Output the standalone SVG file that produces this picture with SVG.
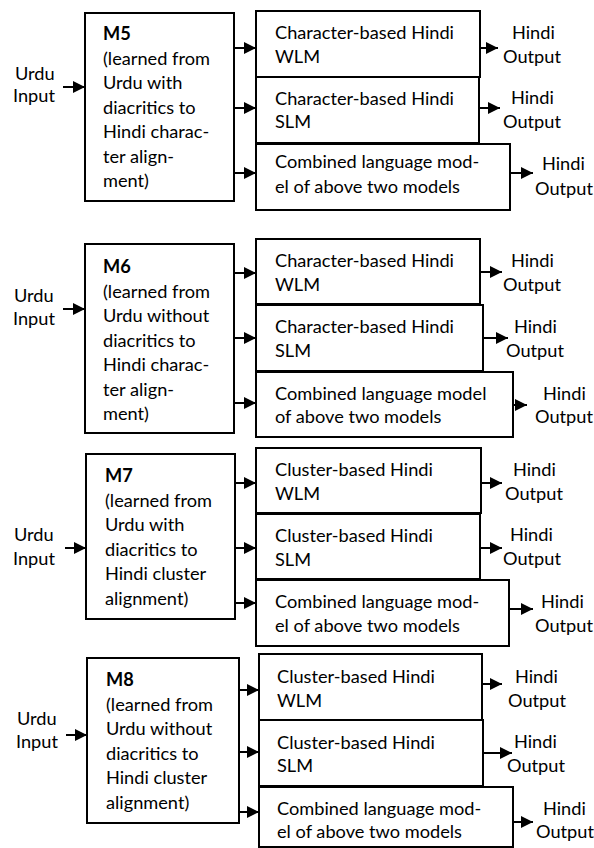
<svg xmlns="http://www.w3.org/2000/svg" width="594" height="848" viewBox="0 0 594 848">
<defs>
<style>
text{font-family:Lato,"Open Sans","Liberation Sans",sans-serif;font-size:18.2px;fill:#000}
.b{font-weight:bold}
rect{fill:#fff;stroke:#000;stroke-width:2}
.c line{stroke:#000;stroke-width:2}
</style>
<marker id="ah" markerUnits="userSpaceOnUse" markerWidth="13" markerHeight="13" refX="12" refY="6" orient="auto"><path d="M0,0 L12,6 L0,12 z" fill="#000"/></marker>
</defs>
<rect x="0" y="0" width="594" height="848" style="stroke:none;fill:#fff"/>

<!-- Section 1 -->
<g id="in1"><text x="15" y="80">Urdu</text><text x="13" y="102">Input</text></g>
<g id="m5"><rect x="85" y="13" width="149" height="188"/>
<text x="103" y="40" class="b">M5</text><text x="103" y="64.5">(learned from</text><text x="103" y="89">Urdu with</text><text x="103" y="113.5">diacritics to</text><text x="103" y="138">Hindi charac-</text><text x="103" y="162.5">ter align-</text><text x="103" y="187">ment)</text></g>
<g id="m5wlm"><rect x="256" y="11" width="224" height="66"/><text x="275" y="39">Character-based Hindi</text><text x="275" y="63">WLM</text></g>
<g id="m5slm"><rect x="256" y="77" width="223" height="66"/><text x="275" y="105">Character-based Hindi</text><text x="275" y="128">SLM</text></g>
<g id="m5comb"><rect x="256" y="144" width="254" height="66"/><text x="275" y="168">Combined language mod-</text><text x="275" y="193">el of above two models</text></g>
<g id="o1a"><text x="512" y="39">Hindi</text><text x="503" y="63">Output</text></g>
<g id="o1b"><text x="511" y="104">Hindi</text><text x="503" y="128">Output</text></g>
<g id="o1c"><text x="542" y="170">Hindi</text><text x="535" y="195">Output</text></g>

<!-- Section 2 -->
<g id="in2"><text x="14" y="302">Urdu</text><text x="13" y="325">Input</text></g>
<g id="m6"><rect x="85" y="244" width="149" height="189"/>
<text x="103" y="273" class="b">M6</text><text x="103" y="297.5">(learned from</text><text x="103" y="322">Urdu without</text><text x="103" y="346.5">diacritics to</text><text x="103" y="371">Hindi charac-</text><text x="103" y="395.5">ter align-</text><text x="103" y="420">ment)</text></g>
<g id="m6wlm"><rect x="256" y="239" width="224" height="65"/><text x="275" y="267">Character-based Hindi</text><text x="275" y="291">WLM</text></g>
<g id="m6slm"><rect x="256" y="305" width="227" height="66"/><text x="275" y="333">Character-based Hindi</text><text x="275" y="357">SLM</text></g>
<g id="m6comb"><rect x="256" y="372" width="257" height="65"/><text x="275" y="400">Combined language model</text><text x="275" y="423">of above two models</text></g>
<g id="o2a"><text x="511" y="267">Hindi</text><text x="503" y="291">Output</text></g>
<g id="o2b"><text x="514" y="333">Hindi</text><text x="506" y="357">Output</text></g>
<g id="o2c"><text x="543" y="400">Hindi</text><text x="535" y="423">Output</text></g>

<!-- Section 3 -->
<g id="in3"><text x="14" y="541">Urdu</text><text x="13" y="565">Input</text></g>
<g id="m7"><rect x="86" y="454" width="149" height="165"/>
<text x="105" y="482" class="b">M7</text><text x="105" y="506.5">(learned from</text><text x="105" y="531">Urdu with</text><text x="105" y="555.5">diacritics to</text><text x="105" y="580">Hindi cluster</text><text x="105" y="604.5">alignment)</text></g>
<g id="m7wlm"><rect x="256" y="448" width="225" height="65"/><text x="275" y="476">Cluster-based Hindi</text><text x="275" y="500">WLM</text></g>
<g id="m7slm"><rect x="256" y="514" width="224" height="65"/><text x="275" y="542">Cluster-based Hindi</text><text x="275" y="566">SLM</text></g>
<g id="m7comb"><rect x="256" y="580" width="253" height="66"/><text x="275" y="608">Combined language mod-</text><text x="275" y="632">el of above two models</text></g>
<g id="o3a"><text x="513" y="476">Hindi</text><text x="505" y="500">Output</text></g>
<g id="o3b"><text x="510" y="541">Hindi</text><text x="503" y="565">Output</text></g>
<g id="o3c"><text x="541" y="608">Hindi</text><text x="535" y="632">Output</text></g>

<!-- Section 4 -->
<g id="in4"><text x="17" y="725">Urdu</text><text x="16" y="748">Input</text></g>
<g id="m8"><rect x="87" y="658" width="152" height="165"/>
<text x="106" y="686" class="b">M8</text><text x="106" y="710.5">(learned from</text><text x="106" y="735">Urdu without</text><text x="106" y="759.5">diacritics to</text><text x="106" y="784">Hindi cluster</text><text x="106" y="808.5">alignment)</text></g>
<g id="m8wlm"><rect x="259" y="654" width="223" height="66"/><text x="277" y="683">Cluster-based Hindi</text><text x="277" y="707">WLM</text></g>
<g id="m8slm"><rect x="259" y="720" width="224" height="66"/><text x="277" y="749">Cluster-based Hindi</text><text x="277" y="772">SLM</text></g>
<g id="m8comb"><rect x="259" y="787" width="254" height="60"/><text x="277" y="815">Combined language mod-</text><text x="277" y="838">el of above two models</text></g>
<g id="o4a"><text x="515" y="683">Hindi</text><text x="508" y="707">Output</text></g>
<g id="o4b"><text x="514" y="748">Hindi</text><text x="507" y="772">Output</text></g>
<g id="o4c"><text x="543" y="815">Hindi</text><text x="536" y="838">Output</text></g>

<g id="connectors" class="c">
<line x1="63" y1="87" x2="85" y2="87" marker-end="url(#ah)"/>
<line x1="234" y1="48" x2="256" y2="48" marker-end="url(#ah)"/>
<line x1="234" y1="108" x2="256" y2="108" marker-end="url(#ah)"/>
<line x1="234" y1="173" x2="256" y2="173" marker-end="url(#ah)"/>
<line x1="480" y1="48" x2="498" y2="48" marker-end="url(#ah)"/>
<line x1="479" y1="108" x2="500" y2="108" marker-end="url(#ah)"/>
<line x1="510" y1="173" x2="533" y2="173" marker-end="url(#ah)"/>

<line x1="63" y1="309" x2="85" y2="309" marker-end="url(#ah)"/>
<line x1="234" y1="273" x2="256" y2="273" marker-end="url(#ah)"/>
<line x1="234" y1="338" x2="256" y2="338" marker-end="url(#ah)"/>
<line x1="234" y1="403" x2="256" y2="403" marker-end="url(#ah)"/>
<line x1="480" y1="272" x2="502" y2="272" marker-end="url(#ah)"/>
<line x1="483" y1="338" x2="508" y2="338" marker-end="url(#ah)"/>
<line x1="513" y1="405" x2="527" y2="405" marker-end="url(#ah)"/>

<line x1="65" y1="548" x2="86" y2="548" marker-end="url(#ah)"/>
<line x1="235" y1="483" x2="256" y2="483" marker-end="url(#ah)"/>
<line x1="235" y1="548" x2="256" y2="548" marker-end="url(#ah)"/>
<line x1="235" y1="603" x2="256" y2="603" marker-end="url(#ah)"/>
<line x1="481" y1="483" x2="502" y2="483" marker-end="url(#ah)"/>
<line x1="480" y1="548" x2="502" y2="548" marker-end="url(#ah)"/>
<line x1="509" y1="609" x2="533" y2="609" marker-end="url(#ah)"/>

<line x1="66" y1="735" x2="87" y2="735" marker-end="url(#ah)"/>
<line x1="239" y1="690" x2="259" y2="690" marker-end="url(#ah)"/>
<line x1="239" y1="752" x2="259" y2="752" marker-end="url(#ah)"/>
<line x1="239" y1="812" x2="259" y2="812" marker-end="url(#ah)"/>
<line x1="482" y1="684" x2="502" y2="684" marker-end="url(#ah)"/>
<line x1="483" y1="753" x2="512" y2="753" marker-end="url(#ah)"/>
<line x1="513" y1="822" x2="533" y2="822" marker-end="url(#ah)"/>
</g>
</svg>
